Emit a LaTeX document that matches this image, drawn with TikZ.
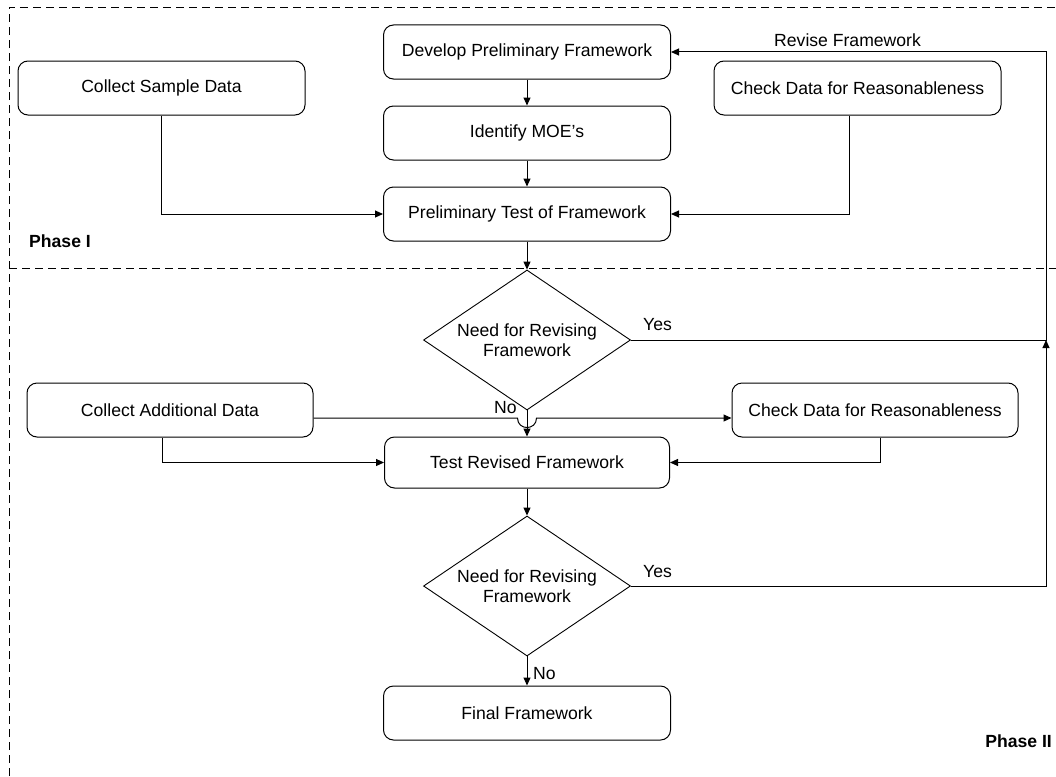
\documentclass[tikz,border=0pt]{standalone}
\usepackage{fontspec}
\setmainfont{Liberation Sans}
\usetikzlibrary{shapes.geometric,arrows.meta}
\begin{document}
\begin{tikzpicture}[x=1pt,y=-1pt,
  box/.style={draw,rounded corners=10pt,minimum width=287pt,minimum height=54pt,inner sep=0pt,
    font=\fontsize{17.6}{20}\selectfont,line width=1pt},
  dec/.style={draw,diamond,shape aspect=1.5,minimum width=207pt,minimum height=140pt,inner sep=0pt,
    align=center,font=\fontsize{17.6}{20}\selectfont,line width=0.9pt},
  arr/.style={-{Triangle[length=8pt,width=7pt]},line width=1pt},
  ln/.style={line width=1pt},
  frameline/.style={dash pattern=on 8pt off 5pt,line width=0.8pt},
  lbl/.style={font=\fontsize{17.6}{20}\selectfont,inner sep=0pt,anchor=base west},
  phase/.style={font=\fontsize{17.6}{20}\selectfont\bfseries,inner sep=0pt}]
\fill[white] (0,0) rectangle (1056,776);
\useasboundingbox (0,0) rectangle (1056,776);
% frame
\draw[frameline] (9,776) -- (9,7) -- (1056,7);
\draw[frameline] (9,268) -- (1056,268);
% nodes
\node[box] (dev) at (527,52) {Develop Preliminary Framework};
\node[box] (moe) at (527,133) {Identify MOE’s};
\node[box] (pre) at (527,214) {Preliminary Test of Framework};
\node[box] (csd) at (161.5,88) {Collect Sample Data};
\node[box] (cdr1) at (857.5,88) {Check Data for Reasonableness};
\node[dec] (d1) at (527,340) {Need for Revising\\Framework};
\node[box,minimum width=286pt] (cad) at (170,410) {Collect Additional Data};
\node[box,minimum width=286pt] (cdr2) at (875,410) {Check Data for Reasonableness};
\node[box,minimum width=285pt,minimum height=51pt] (tr) at (527,462.5) {Test Revised Framework};
\node[dec] (d2) at (527,586) {Need for Revising\\Framework};
\node[box] (ff) at (527,713) {Final Framework};
% labels
\node[lbl] (rf) at (774,46) {Revise Framework};
\node[lbl] (y1) at (643,330) {Yes};
\node[lbl] (n1) at (494,413) {No};
\node[lbl] (y2) at (643,577) {Yes};
\node[lbl] (n2) at (533,679) {No};
\node[phase,anchor=base west] (p1) at (29,247) {Phase I};
\node[phase,anchor=base east] (p2) at (1052,747) {Phase II};
% coordinates
\coordinate (r0) at (1046,52);
\coordinate (r1) at (1046,340);
\coordinate (r2) at (1046,586);
% connectors
\draw[arr] (dev.south) -- (moe.north);
\draw[arr] (moe.south) -- (pre.north);
\draw[arr] (csd.south) |- (pre.west);
\draw[arr] ([xshift=-8.5pt]cdr1.south) |- (pre.east);
\draw[arr] (pre.south) -- (d1.north);
\draw[arr] (d1.east) -- (r1) -- (r0) -- (dev.east);
\draw[arr] (d1.south) -- (tr.north);
\draw[arr] ([yshift=-8pt]cad.east) -- (517.5,418) .. controls (517.5,430.7) and (536.5,430.7) .. (536.5,418) -- ([yshift=-8pt]cdr2.west);
\draw[arr] ([xshift=-8pt]cad.south) |- (tr.west);
\draw[arr] ([xshift=5pt]cdr2.south) |- (tr.east);
\draw[arr] (tr.south) -- (d2.north);
\draw[arr] (d2.east) -- (r2) -- (r1);
\draw[arr] (d2.south) -- (ff.north);
\end{tikzpicture}
\end{document}
